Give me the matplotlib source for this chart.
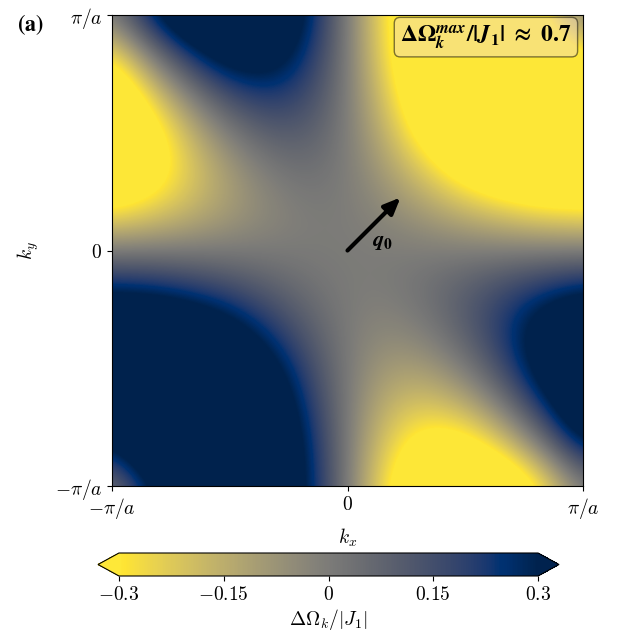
import numpy as np
import matplotlib
matplotlib.use("Agg")
from matplotlib import pyplot as plt

plt.rcParams['mathtext.fontset'] = 'cm'
plt.rcParams['font.family'] = 'serif'
plt.rcParams['font.size'] = 14

# k grid in units of pi/a (pixel centres), values DeltaOmega_k/|J1|
k_vals = [-1, -5/6, -2/3, -1/2, -1/3, -1/6, 0, 1/6, 1/3, 1/2, 2/3, 5/6, 1]

# rows: ky from -pi/a (first) to +pi/a (last); columns: kx from -pi/a to +pi/a
dOmega = [
    [0.00, 0.30, 0.51, 0.59, 0.51, 0.30, 0.00, -0.30, -0.51, -0.59, -0.51, -0.30, 0.00],
    [0.30, 0.52, 0.66, 0.66, 0.52, 0.28, 0.00, -0.24, -0.39, -0.39, -0.24, 0.00, 0.30],
    [0.51, 0.66, 0.70, 0.64, 0.47, 0.23, 0.00, -0.17, -0.23, -0.17, 0.00, 0.24, 0.51],
    [0.59, 0.66, 0.64, 0.54, 0.37, 0.17, 0.00, -0.10, -0.10, 0.00, 0.17, 0.39, 0.59],
    [0.51, 0.52, 0.47, 0.37, 0.23, 0.10, 0.00, -0.04, 0.00, 0.10, 0.23, 0.39, 0.51],
    [0.30, 0.28, 0.23, 0.17, 0.10, 0.04, 0.00, 0.00, 0.04, 0.10, 0.17, 0.24, 0.30],
    [0.00, 0.00, 0.00, 0.00, 0.00, 0.00, 0.00, 0.00, 0.00, 0.00, 0.00, 0.00, 0.00],
    [-0.30, -0.24, -0.17, -0.10, -0.04, 0.00, 0.00, -0.04, -0.10, -0.17, -0.23, -0.28, -0.30],
    [-0.51, -0.39, -0.23, -0.10, 0.00, 0.04, 0.00, -0.10, -0.23, -0.37, -0.47, -0.52, -0.51],
    [-0.59, -0.39, -0.17, 0.00, 0.10, 0.10, 0.00, -0.17, -0.37, -0.54, -0.64, -0.66, -0.59],
    [-0.51, -0.24, 0.00, 0.17, 0.23, 0.17, 0.00, -0.23, -0.47, -0.64, -0.70, -0.66, -0.51],
    [-0.30, 0.00, 0.24, 0.39, 0.39, 0.24, 0.00, -0.28, -0.52, -0.66, -0.66, -0.52, -0.30],
    [0.00, 0.30, 0.51, 0.59, 0.51, 0.30, 0.00, -0.30, -0.51, -0.59, -0.51, -0.30, 0.00],
]

q0 = [0.225, 0.225]   # arrow tip, units of pi/a
vmax = 0.3
cbar_ticks = [-0.3, -0.15, 0, 0.15, 0.3]
cbar_labels = ['$-0.3$', '$-0.15$', '$0$', '$0.15$', '$0.3$']

fig = plt.figure(figsize=(6.4, 6.4), dpi=100)
ax = fig.add_axes([112/640, 1-486/640, 471/640, 471/640])

h = (k_vals[1]-k_vals[0])/2
im = ax.imshow(np.array(dOmega), origin='lower', cmap='cividis_r', vmin=-vmax, vmax=vmax,
               extent=[k_vals[0]-h, k_vals[-1]+h, k_vals[0]-h, k_vals[-1]+h],
               interpolation='bicubic', interpolation_stage='data', aspect='auto')
ax.set_xlim(-1, 1)
ax.set_ylim(-1, 1)
ax.set_xticks([-1, 0, 1])
ax.set_xticklabels([r'$-\pi/a$', '$0$', r'$\pi/a$'])
ax.set_yticks([-1, 0, 1])
ax.set_yticklabels([r'$-\pi/a$', '$0$', r'$\pi/a$'])
ax.set_xlabel('$k_x$', labelpad=4)
ax.set_ylabel('$k_y$', labelpad=10)

ax.annotate('', xy=(q0[0], q0[1]), xytext=(0, 0),
            arrowprops=dict(arrowstyle='-|>,head_length=0.7,head_width=0.3', color='black', lw=3,
                            shrinkA=0, shrinkB=0))
ax.text(0.105, 0.04, r'$\mathbfit{q}_\mathbf{0}$', fontsize=16, ha='left', va='center',
        math_fontfamily='stix')

ax.text(0.976, 0.953, r'$\mathbf{\Delta\Omega}_{\mathbfit{k}}^{\mathbfit{max}}\mathbf{/|}\mathbfit{J}_\mathbf{1}\mathbf{|\ \approx\ 0.7}$',
        transform=ax.transAxes, ha='right', va='center', fontsize=17, math_fontfamily='stix',
        bbox=dict(boxstyle='round,pad=0.25', facecolor='wheat', alpha=0.5, edgecolor='black'))

fig.text(17/640, 1-25/640, r'$\mathbf{(a)}$', fontsize=16, ha='left', va='center',
         math_fontfamily='stix')

cax = fig.add_axes([98/640, 1-576/640, 461/640, 23/640])
cb = fig.colorbar(im, cax=cax, orientation='horizontal', extend='both', ticks=cbar_ticks)
cb.ax.set_xticklabels(cbar_labels)
cb.set_label(r'$\Delta\Omega_k/|J_1|$', labelpad=2)

fig.savefig('out.png', dpi=100)
